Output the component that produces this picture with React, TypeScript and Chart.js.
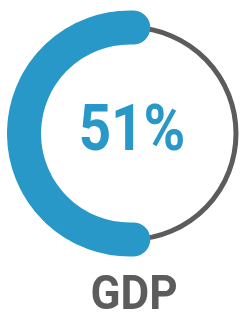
import React, { useEffect, useRef } from "react";
import { Chart, registerables } from "chart.js";

Chart.register(...registerables);

const categories = ["GDP", "Rest"];
const shareValues = [51, 49];
const centerLabel = "51%";
const bottomLabel = "GDP";

const BLUE = "#2898c8";
const GRAY = "#5c5c5c";

export default function App() {
  const ref = useRef<HTMLCanvasElement | null>(null);

  useEffect(() => {
    if (!ref.current) return;
    const chart = new Chart(ref.current, {
      type: "doughnut",
      data: {
        labels: categories,
        datasets: [
          {
            data: shareValues,
            backgroundColor: [BLUE, "rgba(0,0,0,0)"],
            borderColor: [BLUE, "rgba(0,0,0,0)"],
            borderWidth: [34, 0],
            borderJoinStyle: "round",
            borderAlign: "center",
            clip: false,
          } as any,
          {
            data: shareValues,
            backgroundColor: ["rgba(0,0,0,0)", GRAY],
            borderColor: ["rgba(0,0,0,0)", GRAY],
            borderWidth: [0, 5],
            borderJoinStyle: "round",
            borderAlign: "center",
            clip: false,
          } as any,
        ],
      },
      options: {
        responsive: false,
        maintainAspectRatio: false,
        animation: false,
        events: [],
        radius: 106,
        cutout: "100%",
        rotation: 178.2,
        layout: { padding: { left: 20, right: 0, top: 0, bottom: 53 } },
        plugins: {
          legend: { display: false },
          tooltip: { enabled: false },
          title: { display: false },
        },
      } as any,
    });
    return () => chart.destroy();
  }, []);

  return (
    <div
      style={{
        position: "fixed",
        left: 0,
        top: 0,
        width: 240,
        height: 320,
        background: "#fff",
        overflow: "hidden",
      }}
    >
      <canvas ref={ref} width={240} height={320} style={{ position: "absolute", left: 0, top: 0, width: 240, height: 320 }} />
      <div
        style={{
          position: "absolute",
          left: 131.5,
          top: 128,
          transform: "translate(-50%, -50%) scaleX(0.87)",
          fontFamily: "Roboto, sans-serif",
          fontWeight: 700,
          fontSize: 65,
          lineHeight: "65px",
          color: BLUE,
          whiteSpace: "nowrap",
        }}
      >
        {centerLabel}
      </div>
      <div
        style={{
          position: "absolute",
          left: 134,
          top: 292,
          transform: "translate(-50%, -50%) scaleX(0.9)",
          fontFamily: "Roboto, sans-serif",
          fontWeight: 700,
          fontSize: 49,
          lineHeight: "49px",
          color: GRAY,
          whiteSpace: "nowrap",
        }}
      >
        {bottomLabel}
      </div>
    </div>
  );
}
